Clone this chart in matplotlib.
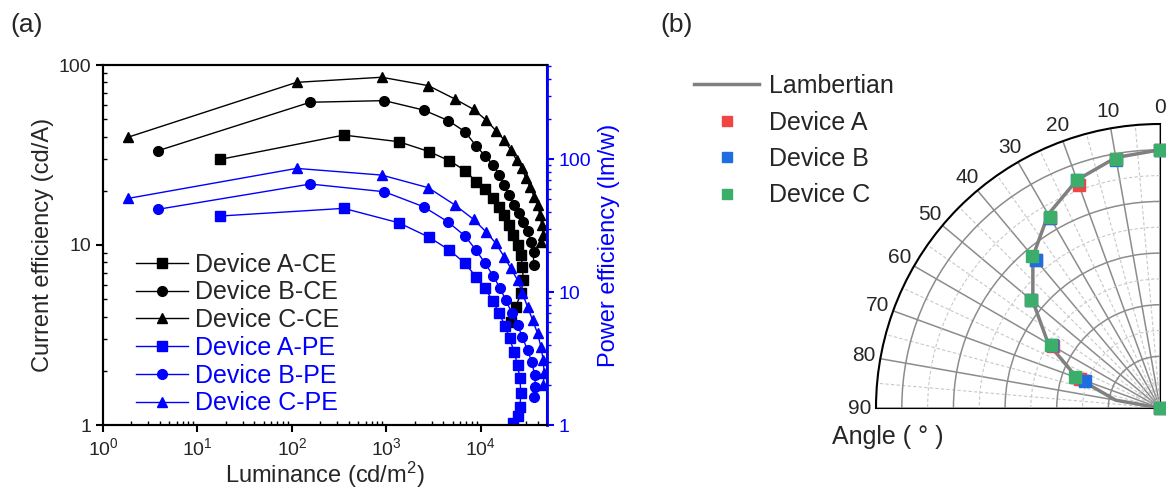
import numpy as np
import matplotlib.pyplot as plt
from matplotlib.ticker import LogLocator, FixedLocator, FuncFormatter, NullFormatter

# -----------------------------
# Data: panel (a)
# -----------------------------
lum_a_ce = [17.4, 353, 1345, 2840, 4620, 6830, 8850, 11000, 13300, 15600, 17600,
            19900, 22000, 24400, 26500, 27500, 28000, 26500, 23400, 20900]
ce_a = [29.9, 40.8, 37.5, 33.0, 29.4, 25.9, 22.5, 20.6, 18.2, 16.3, 14.7,
        12.9, 11.4, 10.0, 8.8, 7.57, 6.39, 5.39, 4.54, 3.73]

lum_b_ce = [3.82, 156, 950, 2470, 4510, 6780, 8850, 11100, 13500, 15600, 17600,
            19900, 22500, 25400, 28000, 31100, 33800, 36000, 36000]
ce_b = [33.4, 62.1, 63.4, 56.2, 49.1, 42.6, 35.6, 31.2, 27.8, 24.5, 21.5,
        18.9, 16.7, 15.0, 13.5, 11.9, 10.4, 9.18, 7.74]

lum_c_ce = [1.84, 112, 890, 2773, 5310, 8350, 11300, 14400, 17600, 20700, 23800,
            27100, 29900, 33000, 36600, 39700, 42000, 44100, 45600, 43100]
ce_c = [39.7, 80.1, 85.5, 76.8, 64.7, 56.7, 49.5, 43.2, 38.3, 33.7, 29.7,
        26.7, 23.5, 21.1, 18.5, 16.7, 14.7, 12.9, 11.4, 10.4]

lum_a_pe = [17.4, 353, 1345, 2840, 4620, 6830, 8850, 11000, 13300, 15600, 18000,
            20100, 22400, 24400, 25800, 26500, 25800, 24400, 22000]
pe_a = [37.3, 42.6, 33.2, 25.8, 20.7, 16.4, 13.0, 10.7, 8.6, 6.92, 5.55,
        4.49, 3.56, 2.83, 2.24, 1.73, 1.37, 1.16, 1.03]

lum_b_pe = [3.82, 156, 950, 2470, 4450, 6780, 8850, 11100, 13500, 15900, 18300,
            21300, 24400, 27500, 31100, 34400, 37100, 37600, 36600]
pe_b = [41.9, 64.9, 56.8, 43.8, 33.8, 26.4, 20.7, 16.4, 13.2, 10.7, 8.71,
        6.92, 5.65, 4.56, 3.66, 2.99, 2.38, 1.94, 1.63]

lum_c_pe = [1.84, 112, 890, 2773, 5310, 8350, 11300, 14400, 17600, 20700, 24400,
            27500, 31100, 35200, 39700, 43100, 45600, 46700, 45600]
pe_c = [50.6, 85.1, 75.8, 60.9, 45.1, 35.2, 28.4, 23.2, 18.4, 15.1, 12.3,
        9.78, 7.75, 6.16, 4.89, 3.88, 3.08, 2.45, 2.0]

# -----------------------------
# Data: panel (b), angular emission
# -----------------------------
angle_lamb = [0, 10, 20, 30, 40, 50, 60, 70, 80, 90]
lambertian = [1.0, 0.985, 0.940, 0.866, 0.766, 0.643, 0.500, 0.342, 0.174, 0.0]

angle_dev = [0, 10, 20, 30, 40, 50, 60, 70, 90]
dev_a = [1.0, 0.98, 0.92, 0.85, 0.75, 0.65, 0.48, 0.33, 0.0]
dev_b = [1.0, 0.975, 0.94, 0.85, 0.75, 0.65, 0.485, 0.31, 0.0]
dev_c = [1.0, 0.98, 0.94, 0.855, 0.77, 0.65, 0.486, 0.35, 0.0]

# -----------------------------
# Style
# -----------------------------
plt.rcParams['font.family'] = ['Liberation Sans', 'DejaVu Sans']
plt.rcParams['mathtext.fontset'] = 'custom'
plt.rcParams['mathtext.rm'] = 'Liberation Sans'
plt.rcParams['mathtext.it'] = 'Liberation Sans:italic'
plt.rcParams['mathtext.default'] = 'regular'

TXT = '#262626'
BLUE = '#0000ff'
RED_B = '#f04545'
BLUE_B = '#1e6ee0'
GREEN_B = '#3aae6a'
W, H = 1166, 493

fig = plt.figure(figsize=(W / 100, H / 100), dpi=100)


def box(x0, y0, x1, y1):
    # pixel box -> figure fraction
    return [x0 / W, 1 - y1 / H, (x1 - x0) / W, (y1 - y0) / H]


# -----------------------------
# Panel (a)
# -----------------------------
ax = fig.add_axes(box(103, 65, 547, 425))
ax2 = ax.twinx()

ax.set_xscale('log')
ax.set_yscale('log')
ax2.set_yscale('log')
ax.set_xlim(1, 5e4)
ax.set_ylim(1, 100)
ax2.set_ylim(1, 510)

ce_series = [
    (lum_a_ce, ce_a, 's', 'Device A-CE'),
    (lum_b_ce, ce_b, 'o', 'Device B-CE'),
    (lum_c_ce, ce_c, '^', 'Device C-CE'),
]
pe_series = [
    (lum_a_pe, pe_a, 's', 'Device A-PE'),
    (lum_b_pe, pe_b, 'o', 'Device B-PE'),
    (lum_c_pe, pe_c, '^', 'Device C-PE'),
]
handles = []
for x, y, m, lab in ce_series:
    h, = ax.plot(x, y, color='k', marker=m, ms=7, lw=1, label=lab)
    handles.append(h)
for x, y, m, lab in pe_series:
    h, = ax2.plot(x, y, color=BLUE, marker=m, ms=7, lw=1, label=lab)
    handles.append(h)

ax.xaxis.set_major_locator(LogLocator(base=10, numticks=10))
ax.xaxis.set_minor_locator(LogLocator(base=10, subs=np.arange(2, 10), numticks=10))
ax.xaxis.set_minor_formatter(NullFormatter())
plain = FuncFormatter(lambda v, p: f'{v:g}')
ax.yaxis.set_major_formatter(plain)
ax.yaxis.set_minor_formatter(NullFormatter())
ax2.yaxis.set_major_formatter(plain)
ax2.yaxis.set_minor_formatter(NullFormatter())

for a in (ax, ax2):
    for s in a.spines.values():
        s.set_linewidth(1.5)
ax2.spines['right'].set_color(BLUE)
ax2.spines['right'].set_linewidth(2)

ax.tick_params(axis='both', which='major', direction='out', length=5, width=1.5,
               labelsize=14, colors='k', labelcolor=TXT)
ax.tick_params(axis='both', which='minor', direction='in', length=3, width=1)
ax.tick_params(top=False, which='both')
ax2.tick_params(axis='y', which='major', direction='out', length=5, width=1.5,
                colors=BLUE, labelcolor=BLUE, labelsize=14)
ax2.tick_params(axis='y', which='minor', direction='out', length=3, width=1,
                colors=BLUE)

ax.set_xlabel('Luminance (cd/m$^2$)', fontsize=17, color=TXT, labelpad=1)
ax.set_ylabel('Current efficiency (cd/A)', fontsize=17, color=TXT, labelpad=3)
ax2.set_ylabel('Power efficiency (lm/w)', fontsize=17, color=BLUE, labelpad=5)

leg = ax.legend(handles=handles, loc='lower left', bbox_to_anchor=(0.04, -0.015),
                frameon=False, fontsize=18, handlelength=2.1, handletextpad=0.25,
                labelspacing=0.15, borderaxespad=0.2)
for t, h in zip(leg.get_texts(), handles):
    t.set_color(TXT if h.get_color() == 'k' else BLUE)

fig.text(10 / W, 1 - 25 / H, '(a)', fontsize=19, color=TXT, va='center')

# -----------------------------
# Panel (b)
# -----------------------------
axp = fig.add_axes(box(876, 124, 1160, 408), projection='polar')
axp.set_theta_zero_location('N')
axp.set_theta_direction(1)
axp.set_thetamin(0)
axp.set_thetamax(90)
axp.set_rlim(0, 1.1)

axp.set_rgrids([0.2, 0.4, 0.6, 0.8, 1.0], labels=[''] * 5)
axp.yaxis.set_minor_locator(FixedLocator([0.1, 0.3, 0.5, 0.7, 0.9]))
axp.set_thetagrids(np.arange(0, 91, 10), labels=[str(v) for v in range(0, 91, 10)],
                   fontsize=15, color=TXT)
axp.xaxis.set_minor_locator(FixedLocator(np.deg2rad(np.arange(5, 90, 10))))
axp.grid(which='major', color='#8c8c8c', lw=1.1, ls='-')
axp.grid(which='minor', color='#c8c8c8', lw=0.8, ls=(0, (3, 2)))
axp.tick_params(axis='x', which='major', direction='in', length=8, width=1.5, colors='k',
                labelcolor=TXT, pad=5)
axp.tick_params(axis='x', which='minor', direction='in', length=5, width=1.2, colors='k')
axp.spines['polar'].set_linewidth(1.5)
axp.spines['start'].set_visible(False)
axp.spines['end'].set_visible(False)

axp.plot(np.deg2rad(angle_lamb), lambertian, color='#808080', lw=2.5, zorder=3,
         label='Lambertian')
for vals, col, lab in [(dev_a, RED_B, 'Device A'), (dev_b, BLUE_B, 'Device B'),
                       (dev_c, GREEN_B, 'Device C')]:
    axp.plot(np.deg2rad(angle_dev), vals, ls='none', marker='s', ms=9, color=col,
             zorder=4, label=lab, clip_on=False)

pleg = fig.legend(*axp.get_legend_handles_labels(), loc='upper left',
                  bbox_to_anchor=(684 / W, 1 - 64 / H), frameon=False, fontsize=18,
                  handlelength=2.6, handletextpad=0.4, labelspacing=0.5,
                  borderaxespad=0, markerscale=0.85)
for t in pleg.get_texts():
    t.set_color(TXT)

fig.text(832 / W, 1 - 437 / H, 'Angle ( \u00b0 )', fontsize=18, color=TXT, va='center')
fig.text(660 / W, 1 - 25 / H, '(b)', fontsize=19, color=TXT, va='center')

fig.savefig('out.png', dpi=100)
